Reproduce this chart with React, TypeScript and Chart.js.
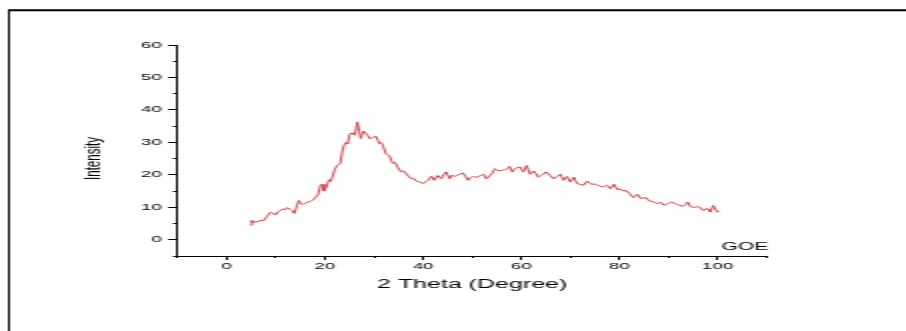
import { useEffect, useRef } from "react";
import { Chart, registerables } from "chart.js";

Chart.register(...registerables);

// ---- data ----
const twoTheta = [
  5.0, 5.1, 5.4, 5.8, 6.3, 6.8, 7.2, 7.6, 8.2, 8.9, 9.4, 9.9, 10.4, 10.9, 11.4, 11.8, 12.3, 12.8, 13.3, 13.8,
  14.3, 14.7, 15.1, 15.5, 16.2, 17.0, 17.6, 18.1, 18.6, 19.1, 19.4, 19.8, 20.3, 20.8, 21.2, 21.5, 22.0, 22.5, 23.1, 23.6,
  23.9, 24.3, 24.6, 25.1, 25.6, 26.1, 26.6, 27.0, 27.3, 27.8, 28.3, 28.7, 29.2, 29.7, 30.4, 30.8, 31.1, 31.5, 31.8, 32.4,
  33.1, 33.5, 33.8, 34.3, 34.8, 35.5, 36.0, 36.5, 37.0, 37.6, 38.1, 38.6, 39.3, 40.0, 40.5, 41.0, 41.7, 42.3, 43.0, 43.7,
  44.2, 44.7, 45.4, 45.9, 46.4, 47.0, 47.5, 48.1, 48.6, 49.2, 49.7, 50.2, 50.7, 51.2, 51.8, 52.3, 52.9, 53.6, 54.1, 54.6,
  55.2, 55.7, 56.2, 56.7, 57.2, 57.6, 58.2, 58.6, 59.1, 59.8, 60.4, 61.1, 61.8, 62.5, 63.0, 63.5, 64.0, 64.5, 65.0, 65.9,
  66.6, 67.3, 68.0, 68.6, 69.3, 70.0, 70.7, 71.4, 72.0, 72.7, 73.4, 73.9, 74.4, 75.0, 75.5, 76.0, 76.5, 77.0, 77.5, 78.2,
  78.9, 79.6, 80.2, 80.8, 81.3, 82.1, 82.8, 83.7, 84.3, 85.0, 85.4, 86.1, 86.6, 87.1, 87.8, 88.4, 89.1, 89.8, 90.5, 91.2,
  91.7, 92.2, 92.9, 93.4, 93.9, 94.4, 95.3, 95.8, 96.3, 97.1, 97.6, 98.0, 98.5, 99.1, 99.8, 100.0,
];
const intensity = [
  4.4, 6.0, 5.2, 5.6, 5.5, 6.0, 5.8, 6.0, 7.2, 8.5, 8.2, 7.6, 8.6, 9.0, 9.5, 9.2, 9.9, 9.4, 9.0, 8.1,
  10.6, 12.1, 11.0, 10.9, 11.4, 11.8, 12.3, 13.1, 13.9, 16.8, 17.1, 15.1, 16.2, 18.5, 18.0, 19.3, 21.6, 22.9, 23.4, 27.6,
  29.1, 29.9, 29.6, 32.7, 32.9, 32.2, 36.3, 33.4, 31.2, 33.5, 32.8, 32.2, 31.1, 31.5, 31.9, 30.6, 29.6, 29.9, 29.1, 26.5,
  26.0, 24.5, 23.6, 23.8, 22.4, 20.9, 21.2, 20.4, 19.6, 18.8, 18.9, 18.1, 17.8, 17.3, 17.9, 18.3, 19.6, 18.3, 19.8, 18.8,
  20.1, 20.9, 18.8, 19.9, 19.5, 19.9, 20.2, 20.6, 19.6, 18.3, 19.2, 19.5, 19.2, 19.5, 19.8, 20.2, 18.8, 19.8, 20.5, 21.9,
  21.3, 21.2, 21.5, 21.6, 21.9, 22.6, 20.9, 21.7, 22.2, 22.4, 20.9, 22.9, 20.2, 21.2, 20.4, 19.3, 19.8, 20.2, 20.9, 19.8,
  18.8, 19.5, 20.2, 18.3, 19.5, 17.8, 19.3, 17.3, 17.1, 16.8, 18.1, 17.4, 17.1, 17.2, 16.8, 16.6, 16.2, 16.5, 16.8, 15.7,
  17.1, 15.4, 15.7, 15.0, 15.2, 14.2, 13.0, 14.0, 12.7, 12.9, 13.0, 11.9, 11.8, 11.6, 11.1, 11.6, 10.6, 11.1, 11.6, 11.3,
  11.0, 10.6, 10.3, 10.8, 11.6, 10.3, 9.9, 10.2, 10.1, 9.0, 9.5, 9.6, 8.5, 10.6, 8.8, 8.5,
];
const seriesLabel = "GOE";
const xTitle = "2 Theta (Degree)";
const yTitle = "Intensity";
const xRange = [-10, 110];
const yRange = [-5, 60];
const xMajorTicks = [0, 20, 40, 60, 80, 100];
const yMajorTicks = [0, 10, 20, 30, 40, 50, 60];
const xMinorStep = 10;
const yMinorStep = 5;

// The reference picture is stretched horizontally; draw narrow, stretch with CSS.
const STRETCH = 2;
const PAGE_W = 906;
const PAGE_H = 331;
const W = PAGE_W / STRETCH;
const H = PAGE_H;

const FONT = "'Liberation Sans', Arial, Helvetica, sans-serif";
const LINE_COLOR = "#cf424b";
const TEXT_COLOR = "#000";

export default function App() {
  const ref = useRef<HTMLCanvasElement | null>(null);

  useEffect(() => {
    document.body.style.margin = "0";
    const canvas = ref.current;
    if (!canvas) return;

    const decor = {
      id: "decor",
      afterDraw(chart: any) {
        const ctx = chart.ctx as CanvasRenderingContext2D;
        const area = chart.chartArea;
        ctx.save();
        // outer frame
        ctx.strokeStyle = "#000";
        ctx.lineWidth = 2;
        ctx.beginPath();
        ctx.moveTo(4, 10.3);
        ctx.lineTo(W, 10.3);
        ctx.stroke();
        ctx.lineWidth = 1;
        ctx.beginPath();
        ctx.moveTo(4.5, 10);
        ctx.lineTo(4.5, H + 5);
        ctx.stroke();
        // y-axis title
        ctx.fillStyle = TEXT_COLOR;
        ctx.font = `11.5px ${FONT}`;
        ctx.textAlign = "center";
        ctx.textBaseline = "middle";
        ctx.translate(area.left - 41.8, 158.5);
        ctx.rotate(-Math.PI / 2);
        ctx.fillText(yTitle, 0, 0);
        ctx.restore();
        // series label (legend text)
        ctx.save();
        ctx.fillStyle = TEXT_COLOR;
        ctx.font = `10.5px ${FONT}`;
        ctx.textAlign = "right";
        ctx.textBaseline = "alphabetic";
        ctx.fillText(chart.data.datasets[0].label, area.right + 0.8, area.bottom - 6.3);
        ctx.restore();
      },
    };

    const chart = new Chart(canvas, {
      type: "line",
      data: {
        datasets: [
          {
            label: seriesLabel,
            data: twoTheta.map((t, i) => ({ x: t, y: intensity[i] })),
            borderColor: LINE_COLOR,
            borderWidth: 1,
            pointRadius: 0,
            tension: 0,
            fill: false,
          },
        ],
      },
      options: {
        animation: false,
        responsive: false,
        devicePixelRatio: 1,
        layout: {
          padding: { left: 88.85 - 50, top: 45, right: W - 383.35, bottom: H - 256 - 40 },
        },
        plugins: { legend: { display: false }, tooltip: { enabled: false } },
        scales: {
          x: {
            type: "linear",
            position: "bottom",
            min: xRange[0],
            max: xRange[1],
            afterBuildTicks: (s: any) => {
              s.ticks = xMajorTicks.map((v) => ({ value: v }));
            },
            afterFit: (s: any) => {
              s.height = 40;
            },
            ticks: {
              autoSkip: false,
              maxRotation: 0,
              padding: 1,
              color: TEXT_COLOR,
              font: { family: FONT, size: 9.3 },
            },
            grid: { drawOnChartArea: false, tickLength: 4, tickColor: "#000", tickWidth: 1 },
            border: { display: true, color: "#000", width: 1 },
            title: {
              display: true,
              text: xTitle,
              color: TEXT_COLOR,
              font: { family: FONT, size: 12.5 },
              padding: { top: 0, bottom: 4 },
            },
          },
          xMinor: {
            type: "linear",
            axis: "x",
            position: { y: yRange[0] },
            min: xRange[0],
            max: xRange[1],
            ticks: { stepSize: xMinorStep, display: false },
            grid: { drawOnChartArea: false, tickLength: 2, tickColor: "#000", tickWidth: 1 },
            border: { display: false },
          },
          y: {
            type: "linear",
            position: "left",
            min: yRange[0],
            max: yRange[1],
            afterBuildTicks: (s: any) => {
              s.ticks = yMajorTicks.map((v) => ({ value: v }));
            },
            afterFit: (s: any) => {
              s.width = 50;
            },
            ticks: {
              padding: 3.3,
              color: TEXT_COLOR,
              font: { family: FONT, size: 9.3 },
            },
            grid: { drawOnChartArea: false, tickLength: 4.7, tickColor: "#000", tickWidth: 1 },
            border: { display: true, color: "#000", width: 1 },
          },
          yMinor: {
            type: "linear",
            axis: "y",
            position: { x: xRange[0] },
            min: yRange[0],
            max: yRange[1],
            ticks: { stepSize: yMinorStep, display: false },
            grid: { drawOnChartArea: false, tickLength: 2.5, tickColor: "#000", tickWidth: 1 },
            border: { display: false },
          },
        },
      },
      plugins: [decor],
    } as any);

    return () => {
      chart.destroy();
    };
  }, []);

  return (
    <div style={{ width: PAGE_W, height: PAGE_H, overflow: "hidden", background: "#fff" }}>
      <canvas
        ref={ref}
        width={W}
        height={H}
        style={{ display: "block", width: `${PAGE_W}px`, height: `${PAGE_H}px` }}
      />
    </div>
  );
}
